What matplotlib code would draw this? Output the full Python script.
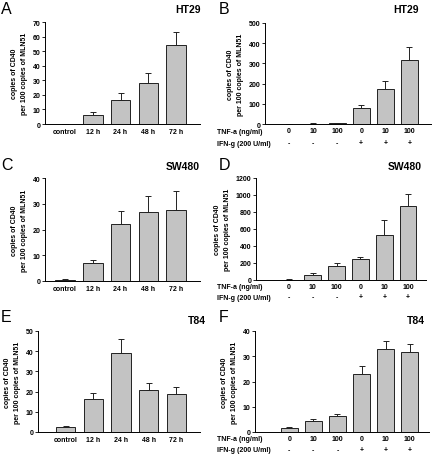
import matplotlib
matplotlib.use("Agg")
import matplotlib.pyplot as plt
import numpy as np
from matplotlib.transforms import blended_transform_factory

plt.rcParams['font.family'] = ['Liberation Sans', 'DejaVu Sans']

W, H = 433, 456

time_labels = ["control", "12 h", "24 h", "48 h", "72 h"]
tnf_labels = ["0", "10", "100", "0", "10", "100"]
ifn_labels = ["-", "-", "-", "+", "+", "+"]

# HT29 time course
ht29_time = [0.2, 6.4, 16.6, 27.8, 54.0]
ht29_time_err = [0.0, 2.0, 4.8, 7.3, 8.9]
# HT29 cytokines
ht29_cyt = [0.5, 2.0, 5.0, 81.0, 173.0, 317.0]
ht29_cyt_err = [0.3, 0.8, 1.5, 11.0, 42.0, 66.0]
# SW480 time course
sw480_time = [0.5, 7.0, 22.0, 26.7, 27.5]
sw480_time_err = [0.2, 1.3, 5.0, 6.3, 7.3]
# SW480 cytokines
sw480_cyt = [5.0, 63.0, 161.0, 244.0, 527.0, 869.0]
sw480_cyt_err = [2.0, 24.0, 44.0, 31.0, 181.0, 146.0]
# T84 time course
t84_time = [2.5, 16.3, 39.1, 20.6, 18.6]
t84_time_err = [0.5, 2.8, 7.1, 3.7, 3.5]
# T84 cytokines
t84_cyt = [1.6, 4.3, 6.2, 23.0, 32.8, 31.5]
t84_cyt_err = [0.4, 0.7, 0.8, 3.0, 3.3, 3.3]

fig = plt.figure(figsize=(W / 100, H / 100), dpi=100)

def ax_px(l, r, t, b):
    return fig.add_axes([l / W, 1 - b / H, (r - l) / W, (b - t) / H])

FS = 5.0
bar_kw = dict(width=0.7, color="#c3c3c3", edgecolor="#222222", linewidth=0.7)
err_kw = dict(ecolor="#222222", elinewidth=0.7, capsize=2.2, capthick=0.7)

def style(ax, ymax, step):
    for s in ("top", "right"):
        ax.spines[s].set_visible(False)
    for s in ("left", "bottom"):
        ax.spines[s].set_linewidth(0.7)
    ax.set_ylim(0, ymax)
    ax.set_yticks(np.arange(0, ymax + step / 2, step))
    ax.tick_params(axis="y", length=2, width=0.6, pad=1.5, labelsize=FS)
    ax.tick_params(axis="x", length=0, pad=3, labelsize=FS)
    for lab in ax.get_yticklabels() + ax.get_xticklabels():
        lab.set_fontweight("bold")
    ax.set_ylabel("copies of CD40\nper 100 copies of MLN51", fontsize=FS,
                  fontweight="bold", labelpad=3, linespacing=1.7)

def time_panel(ax, vals, errs, ymax, step, xlim):
    x = np.arange(len(vals))
    ax.bar(x, vals, **bar_kw)
    ax.errorbar(x, vals, yerr=[np.zeros(len(errs)), errs], fmt="none", **err_kw)
    ax.set_xticks(x)
    ax.set_xticklabels(time_labels)
    ax.set_xlim(*xlim)
    style(ax, ymax, step)

def cyt_panel(ax, vals, errs, ymax, step, xlim, row_y1, row_y2):
    x = np.arange(len(vals))
    ax.bar(x, vals, **bar_kw)
    ax.errorbar(x, vals, yerr=[np.zeros(len(errs)), errs], fmt="none", **err_kw)
    ax.set_xticks(x)
    ax.set_xticklabels(tnf_labels)
    ax.set_xlim(*xlim)
    style(ax, ymax, step)
    ax.tick_params(axis="x", pad=2.5)
    tr = blended_transform_factory(ax.transData, fig.transFigure)
    for xi, s in zip(x, ifn_labels):
        ax.text(xi, 1 - row_y2 / H, s, transform=tr, ha="center", va="center",
                fontsize=FS, fontweight="bold")
    fig.text(217 / W, 1 - row_y1 / H, "TNF-a (ng/ml)", ha="left", va="center",
             fontsize=FS, fontweight="bold")
    fig.text(217 / W, 1 - row_y2 / H, "IFN-g (200 U/ml)", ha="left", va="center",
             fontsize=FS, fontweight="bold")

axA = ax_px(45, 200, 23, 125)
time_panel(axA, ht29_time, ht29_time_err, 70, 10, (-0.72, 4.86))
axB = ax_px(265, 431, 24, 125)
cyt_panel(axB, ht29_cyt, ht29_cyt_err, 500, 100, (-1.0, 5.9), 132, 144)
axC = ax_px(45, 200, 179, 282)
time_panel(axC, sw480_time, sw480_time_err, 40, 10, (-0.72, 4.86))
axD = ax_px(256, 426, 179, 281)
cyt_panel(axD, sw480_cyt, sw480_cyt_err, 1200, 200, (-1.375, 5.75), 288, 298)
axE = ax_px(38, 200, 332, 433)
time_panel(axE, t84_time, t84_time_err, 50, 10, (-1.0, 4.86))
axF = ax_px(255, 429, 332, 433)
cyt_panel(axF, t84_cyt, t84_cyt_err, 40, 10, (-1.42, 5.8), 440, 451)

def letter(x, y, s):
    fig.text(x / W, 1 - y / H, s, fontsize=11.5, ha="left", va="center")

def title(x, y, s):
    fig.text(x / W, 1 - y / H, s, fontsize=7.5, fontweight="bold", ha="center", va="center")

letter(1, 10, "A"); letter(219, 10, "B")
letter(1, 165, "C"); letter(219, 165, "D")
letter(1, 317, "E"); letter(219, 317, "F")
title(188, 10, "HT29"); title(406, 10, "HT29")
title(183, 167, "SW480"); title(405, 167, "SW480")
title(197, 321, "T84"); title(416, 321, "T84")

fig.savefig("out.png", dpi=100)
